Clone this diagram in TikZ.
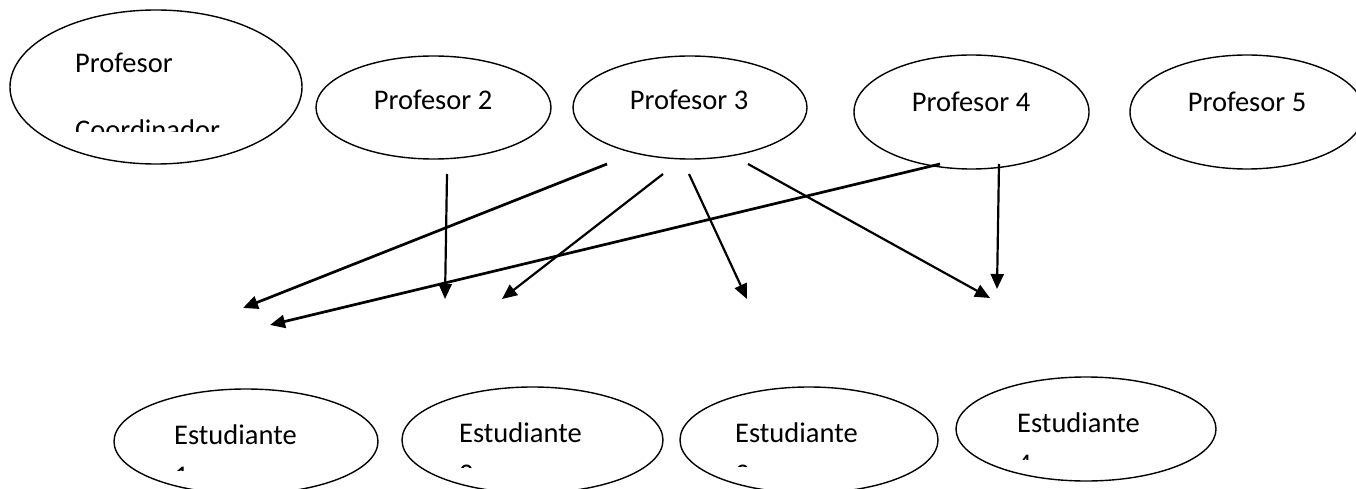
\documentclass[tikz,border=0pt]{standalone}
\usepackage{fontspec}
\setmainfont{Carlito}
\usetikzlibrary{shapes.geometric,arrows.meta}
\begin{document}
\begin{tikzpicture}[x=1pt,y=-1pt,
  ell/.style={draw, ellipse, inner sep=0pt, line width=1.4pt},
  lbl/.style={anchor=base west, inner sep=0pt, font=\fontsize{28.5}{34}\selectfont},
  clbl/.style={anchor=base, inner sep=0pt, font=\fontsize{28.5}{34}\selectfont},
  link/.style={line width=2.2pt, -{Triangle[length=15pt,width=13pt]}},
  thick link/.style={link, line width=2.7pt}]
\useasboundingbox[fill=white] (0,0) rectangle (1356,489);

% professor ellipses
\node[ell, minimum width=292pt, minimum height=154pt] (pc) at (156,87) {};
\node[ell, minimum width=235pt, minimum height=103pt] (p2) at (433.5,107.5) {};
\node[ell, minimum width=234pt, minimum height=103pt] (p3) at (690,107.5) {};
\node[ell, minimum width=235pt, minimum height=114pt] (p4) at (971.5,112) {};
\node[ell, minimum width=234pt, minimum height=114pt] (p5) at (1247,112) {};

% student ellipses
\node[ell, minimum width=264pt, minimum height=105pt] (e1) at (246,441.5) {};
\node[ell, minimum width=261pt, minimum height=106pt] (e2) at (532.5,440) {};
\node[ell, minimum width=258pt, minimum height=106pt] (e3) at (809,440) {};
\node[ell, minimum width=260pt, minimum height=104pt] (e4) at (1086,429) {};

% professor labels
\begin{scope}
  \clip (40,20) rectangle (300,132);
  \node[lbl] (tpc1) at (75,73) {Profesor};
  \node[lbl] (tpc2) at (75,140) {Coordinador};
\end{scope}
\node[clbl] (tp2) at (433,110) {Profesor 2};
\node[clbl] (tp3) at (689,110) {Profesor 3};
\node[clbl] (tp4) at (971,112) {Profesor 4};
\node[clbl] (tp5) at (1247,112) {Profesor 5};

% student labels
\begin{scope}
  \clip (120,400) rectangle (370,470);
  \node[lbl] (te1) at (174,444) {Estudiante};
  \node[lbl] (te1b) at (174,485) {1};
\end{scope}
\begin{scope}
  \clip (405,400) rectangle (655,467);
  \node[lbl] (te2) at (459,442) {Estudiante};
  \node[lbl] (te2b) at (459,483) {2};
\end{scope}
\begin{scope}
  \clip (685,400) rectangle (935,466);
  \node[lbl] (te3) at (735,442) {Estudiante};
  \node[lbl] (te3b) at (735,483) {3};
\end{scope}
\begin{scope}
  \clip (960,390) rectangle (1210,459);
  \node[lbl] (te4) at (1017,432) {Estudiante};
  \node[lbl] (te4b) at (1017,473) {4};
\end{scope}

% connector end points
\coordinate (a1s) at (607,164); \coordinate (a1e) at (243,308);
\coordinate (a2s) at (447,174); \coordinate (a2e) at (445,299);
\coordinate (a3s) at (663,174); \coordinate (a3e) at (502,299);
\coordinate (a4s) at (689,174); \coordinate (a4e) at (747,299);
\coordinate (a5s) at (748,164); \coordinate (a5e) at (990,298);
\coordinate (a6s) at (940,164); \coordinate (a6e) at (270,325);
\coordinate (a7s) at (999,164); \coordinate (a7e) at (997,289);

\draw[thick link] (a1s) -- (a1e);
\draw[link] (a2s) -- (a2e);
\draw[link] (a3s) -- (a3e);
\draw[link] (a4s) -- (a4e);
\draw[link] (a5s) -- (a5e);
\draw[thick link] (a6s) -- (a6e);
\draw[link] (a7s) -- (a7e);
\end{tikzpicture}
\end{document}
